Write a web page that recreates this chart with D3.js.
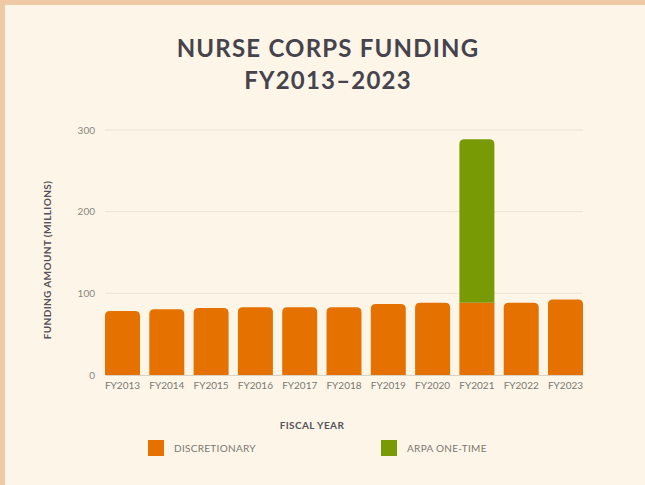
<!DOCTYPE html>
<html lang="en">
<head>
  <meta charset="UTF-8">
  <title>Nurse Corps Funding FY2013-2023</title>
  <script src="https://d3js.org/d3.v7.min.js"></script>
  <style type="text/css">
    body { margin: 0; background: #efc9a6; }
    svg { display: block; font-family: Lato, "Open Sans", sans-serif; }
  </style>
</head>
<body>
  <div id="chart">
    <svg width="645" height="485"></svg>
  </div>
  <script type="text/javascript">
    // Data (millions of dollars)
    const years = ["FY2013", "FY2014", "FY2015", "FY2016", "FY2017", "FY2018",
                   "FY2019", "FY2020", "FY2021", "FY2022", "FY2023"];
    const discretionary = [78.5, 80.5, 82, 83.1, 83.1, 83.1, 87, 88.6, 88.6, 88.6, 92.6];
    const arpa = [0, 0, 0, 0, 0, 0, 0, 0, 200, 0, 0];
    const yTicks = [0, 100, 200, 300];
    const seriesNames = ["DISCRETIONARY", "ARPA ONE-TIME"];
    const seriesColors = ["#e57200", "#789a04"];

    let svg = d3.select("div#chart svg");

    // cream panel inside the peach frame
    svg.append("rect")
      .attr("x", 5).attr("y", 5)
      .attr("width", 645).attr("height", 480)
      .attr("fill", "#fdf6e8");

    // title
    svg.append("g")
      .attr("fill", "#46434d")
      .style("font-size", "24px")
      .style("font-weight", 700)
      .style("letter-spacing", "1.2px")
      .attr("text-anchor", "middle")
      .selectAll("text")
      .data(["NURSE CORPS FUNDING", "FY2013\u20132023"])
      .enter().append("text")
      .attr("x", 328)
      .attr("y", (d, i) => 57 + i * 32)
      .text(d => d);

    let margin = { top: 130, left: 105 },
      width = 583 - 105,
      height = 375 - 130,
      g = svg.append("g").attr("transform", "translate(" + margin.left + "," + margin.top + ")");

    let x = d3.scaleBand().domain(years).range([0, width]).paddingInner(0.21).paddingOuter(0);
    let y = d3.scaleLinear().domain([0, 300]).range([height, 0]);

    // grid lines
    g.append("g")
      .selectAll("line")
      .data(yTicks.slice(1))
      .enter().append("line")
      .attr("x1", 0).attr("x2", width)
      .attr("y1", d => y(d)).attr("y2", d => y(d))
      .attr("stroke", "#ece3d4")
      .attr("stroke-width", 1);

    // y axis
    let yAxis = g.append("g")
      .call(d3.axisLeft(y).tickValues(yTicks).tickSize(0).tickPadding(10));
    yAxis.select(".domain").remove();
    yAxis.selectAll("text")
      .style("font-size", "10px")
      .style("font-family", "Lato, sans-serif")
      .attr("fill", "#8a8580");

    // bars with rounded tops
    function barPath(x0, y0, w, h, r) {
      r = Math.min(r, h);
      return "M" + x0 + "," + (y0 + h) +
        "V" + (y0 + r) +
        "Q" + x0 + "," + y0 + " " + (x0 + r) + "," + y0 +
        "H" + (x0 + w - r) +
        "Q" + (x0 + w) + "," + y0 + " " + (x0 + w) + "," + (y0 + r) +
        "V" + (y0 + h) + "Z";
    }

    let rows = years.map((yr, i) => ({ year: yr, disc: discretionary[i], arpa: arpa[i] }));

    g.append("g")
      .selectAll("path.disc")
      .data(rows)
      .enter().append("path")
      .attr("class", "disc")
      .attr("fill", seriesColors[0])
      .attr("d", d => barPath(x(d.year), y(d.disc), x.bandwidth(),
        y(0) - y(d.disc), d.arpa > 0 ? 0 : 5));

    g.append("g")
      .selectAll("path.arpa")
      .data(rows.filter(d => d.arpa > 0))
      .enter().append("path")
      .attr("class", "arpa")
      .attr("fill", seriesColors[1])
      .attr("d", d => barPath(x(d.year), y(d.disc + d.arpa), x.bandwidth(),
        y(d.disc) - y(d.disc + d.arpa), 5));

    // x axis
    let xAxis = g.append("g")
      .attr("transform", "translate(0," + height + ")")
      .call(d3.axisBottom(x).tickSize(0).tickPadding(7));
    xAxis.select(".domain").attr("stroke", "#d9d2c6");
    xAxis.selectAll("text")
      .style("font-size", "10px")
      .style("font-family", "Lato, sans-serif")
      .attr("fill", "#7a7672");

    // axis titles
    svg.append("text")
      .attr("x", 312).attr("y", 429)
      .attr("text-anchor", "middle")
      .style("font-size", "10px")
      .style("font-weight", 700)
      .style("letter-spacing", "0.4px")
      .attr("fill", "#56525a")
      .text("FISCAL YEAR");

    svg.append("text")
      .attr("transform", "translate(51,260) rotate(-90)")
      .attr("text-anchor", "middle")
      .style("font-size", "10px")
      .style("font-weight", 700)
      .style("letter-spacing", "0.4px")
      .attr("fill", "#56525a")
      .text("FUNDING AMOUNT (MILLIONS)");

    // legend
    let legend = svg.append("g")
      .selectAll("g")
      .data(seriesNames)
      .enter().append("g")
      .attr("transform", (d, i) => "translate(" + (148 + i * 233) + ",440)");
    legend.append("rect")
      .attr("width", 16).attr("height", 16)
      .attr("fill", (d, i) => seriesColors[i]);
    legend.append("text")
      .attr("x", 26).attr("y", 12)
      .style("font-size", "10px")
      .style("letter-spacing", "0.3px")
      .attr("fill", "#7a7672")
      .text(d => d);
  </script>
</body>
</html>
